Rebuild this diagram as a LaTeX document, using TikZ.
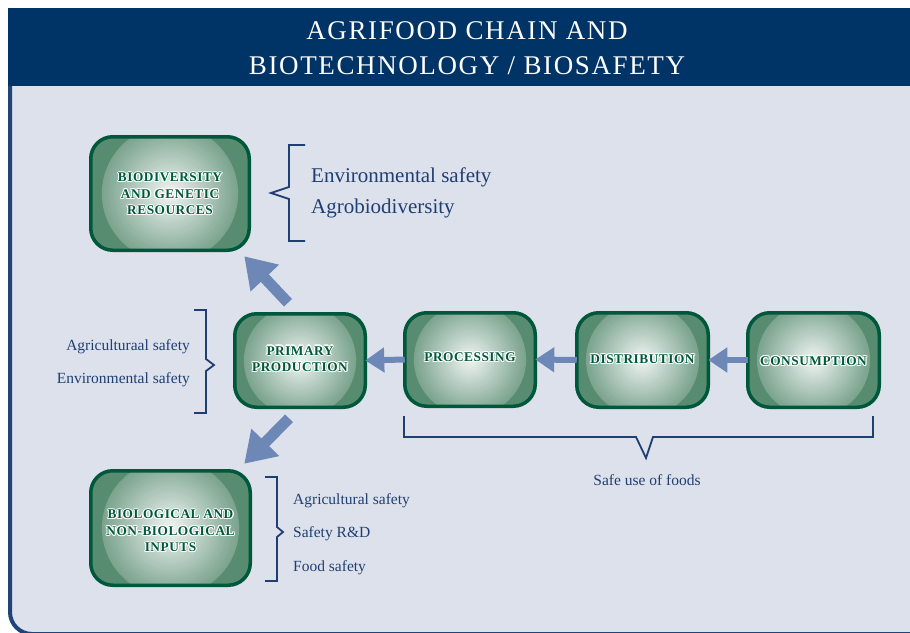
\documentclass[tikz,border=0pt]{standalone}
\usepackage{fontspec}
\setmainfont{Liberation Serif}
\newfontfamily\boxfont[LetterSpace=4]{Liberation Serif}
\newfontfamily\ttlfont[LetterSpace=6]{Liberation Serif}
\usetikzlibrary{arrows.meta,calc}
\definecolor{hdr}{HTML}{003366}
\definecolor{panelfill}{HTML}{DDE1EC}
\definecolor{panelline}{HTML}{1F4478}
\definecolor{txtblue}{HTML}{1F3F72}
\definecolor{flowcol}{HTML}{6D88B6}
\definecolor{gdark}{HTML}{00583A}
\definecolor{gband}{HTML}{588C70}
\definecolor{ringout}{HTML}{7CA48F}
\definecolor{ringin}{HTML}{EEF4F1}
\tikzset{
  gb/.style={rectangle, rounded corners=22pt, fill=gband, draw=none, outer sep=0pt, inner sep=0pt},
  gbborder/.style={draw=gdark, line width=3.5pt, rounded corners=22pt},
  gtxt/.style={font=\boxfont\bfseries\fontsize{13.3}{16.5}\selectfont, align=center, inner sep=0pt},
  lbl/.style={text=txtblue, inner sep=0pt, font=\fontsize{15.5}{18}\selectfont},
  lblbig/.style={text=txtblue, inner sep=0pt, font=\fontsize{21}{24}\selectfont},
  ttl/.style={text=white, inner sep=0pt, font=\ttlfont\fontsize{27}{32}\selectfont},
  brk/.style={draw=txtblue, line width=1.8pt, miter limit=10},
  flow/.style={draw=flowcol, line width=6pt, -{Triangle[length=19pt,width=24pt]}},
  flowbig/.style={draw=flowcol, line width=11pt, -{Triangle[length=30pt,width=37pt]}}
}
\newcommand\gbox[5]{% name, x, y, w, h
  \node[gb, minimum width=#4pt, minimum height=#5pt] (#1) at (#2,#3) {};
  \begin{scope}
    \clip[rounded corners=22pt] (#1.south west) rectangle (#1.north east);
    \foreach \i in {0,...,30}{%
      \pgfmathsetmacro\rr{0.43*#4*(1-\i/31)}%
      \pgfmathtruncatemacro\pp{100*\i/30}%
      \fill[ringin!\pp!ringout] (#1.center) circle[radius=\rr pt];
    }
  \end{scope}
  \draw[gbborder] (#1.south west) rectangle (#1.north east);
}
\newcommand\gtext[4]{% name, x, y, text
  \foreach \dx/\dy [count=\k] in {1.1/0,-1.1/0,0/1.1,0/-1.1,0.8/0.8,-0.8/0.8,0.8/-0.8,-0.8/-0.8}{
    \node[gtxt, text=white] (#1-h\k) at ($(#2,#3)+(\dx,\dy)$) {#4};
  }
  \node[gtxt, text=gdark] (#1) at (#2,#3) {#4};
}
\begin{document}
\begin{tikzpicture}[x=1pt,y=-1pt]
\useasboundingbox (0,0) rectangle (910,632);
\fill[white] (0,0) rectangle (910,632);
% panel
\fill[panelfill, rounded corners=22pt] (10,60) -- (10,634) -- (930,634) -- (930,60) -- cycle;
\draw[panelline, line width=4pt, rounded corners=22pt] (10,60) -- (10,634) -- (930,634);
% header
\fill[hdr] (8,8) rectangle (920,86);
\node[ttl, anchor=base] (t1) at (467,39.5) {AGRIFOOD CHAIN AND};
\node[ttl, anchor=base] (t2) at (467,74) {BIOTECHNOLOGY / BIOSAFETY};

% boxes
\gbox{bio}{170}{193.5}{158.5}{113.5}
\gbox{prim}{300}{360.5}{130.5}{93.5}
\gbox{proc}{470}{359.5}{130.5}{93.5}
\gbox{dist}{642.5}{360}{131.5}{94.5}
\gbox{cons}{813.5}{360}{131.5}{94.5}
\gbox{inp}{170.5}{528}{159.5}{114.5}

\gtext{biot}{170}{194}{BIODIVERSITY\\AND GENETIC\\RESOURCES}
\gtext{primt}{300}{359}{PRIMARY\\PRODUCTION}
\gtext{proct}{470}{357}{PROCESSING}
\gtext{distt}{642.5}{359}{DISTRIBUTION}
\gtext{const}{813.5}{361}{CONSUMPTION}
\gtext{inpt}{170.5}{531}{BIOLOGICAL AND\\NON-BIOLOGICAL\\INPUTS}

% arrows
\draw[flow] (cons.west) -- (dist.east);
\draw[flow] (dist.west) -- (proc.east);
\draw[flow] (proc.west) -- (prim.east);
\draw[flowbig] ($(prim.north)+(-12,-11)$) -- ($(bio.south east)+(-5,6)$);
\draw[flowbig] ($(prim.south)+(-11,11)$) -- ($(inp.north east)+(-6,-7)$);

% brackets
\draw[brk] (305,145) -- (289,145) -- (289,187) -- (271,193) -- (289,199) -- (289,241) -- (305,241);
\draw[brk] (194,310) -- (206,310) -- (206,359) -- (214,365) -- (206,371) -- (206,413) -- (194,413);
\draw[brk] (265,477) -- (277,477) -- (277,527) -- (283,532) -- (277,537) -- (277,581) -- (265,581);
\draw[brk] (404,416) -- (404,437) -- (636,437) -- (646,458) -- (653,437) -- (873,437) -- (873,416);

% labels
\node[lblbig, anchor=base west] (envs) at (311,182) {Environmental safety};
\node[lblbig, anchor=base west] (agrob) at (311,213) {Agrobiodiversity};
\node[lbl, anchor=base east] (agsafa) at (190,350) {Agriculturaal safety};
\node[lbl, anchor=base east] (envsb) at (190,383) {Environmental safety};
\node[lbl, anchor=base west] (agsafb) at (293,504) {Agricultural safety};
\node[lbl, anchor=base west] (rd) at (293,537) {Safety R\&D};
\node[lbl, anchor=base west] (fs) at (293,571) {Food safety};
\node[lbl, anchor=base] (safe) at (647,485) {Safe use of foods};
\end{tikzpicture}
\end{document}
